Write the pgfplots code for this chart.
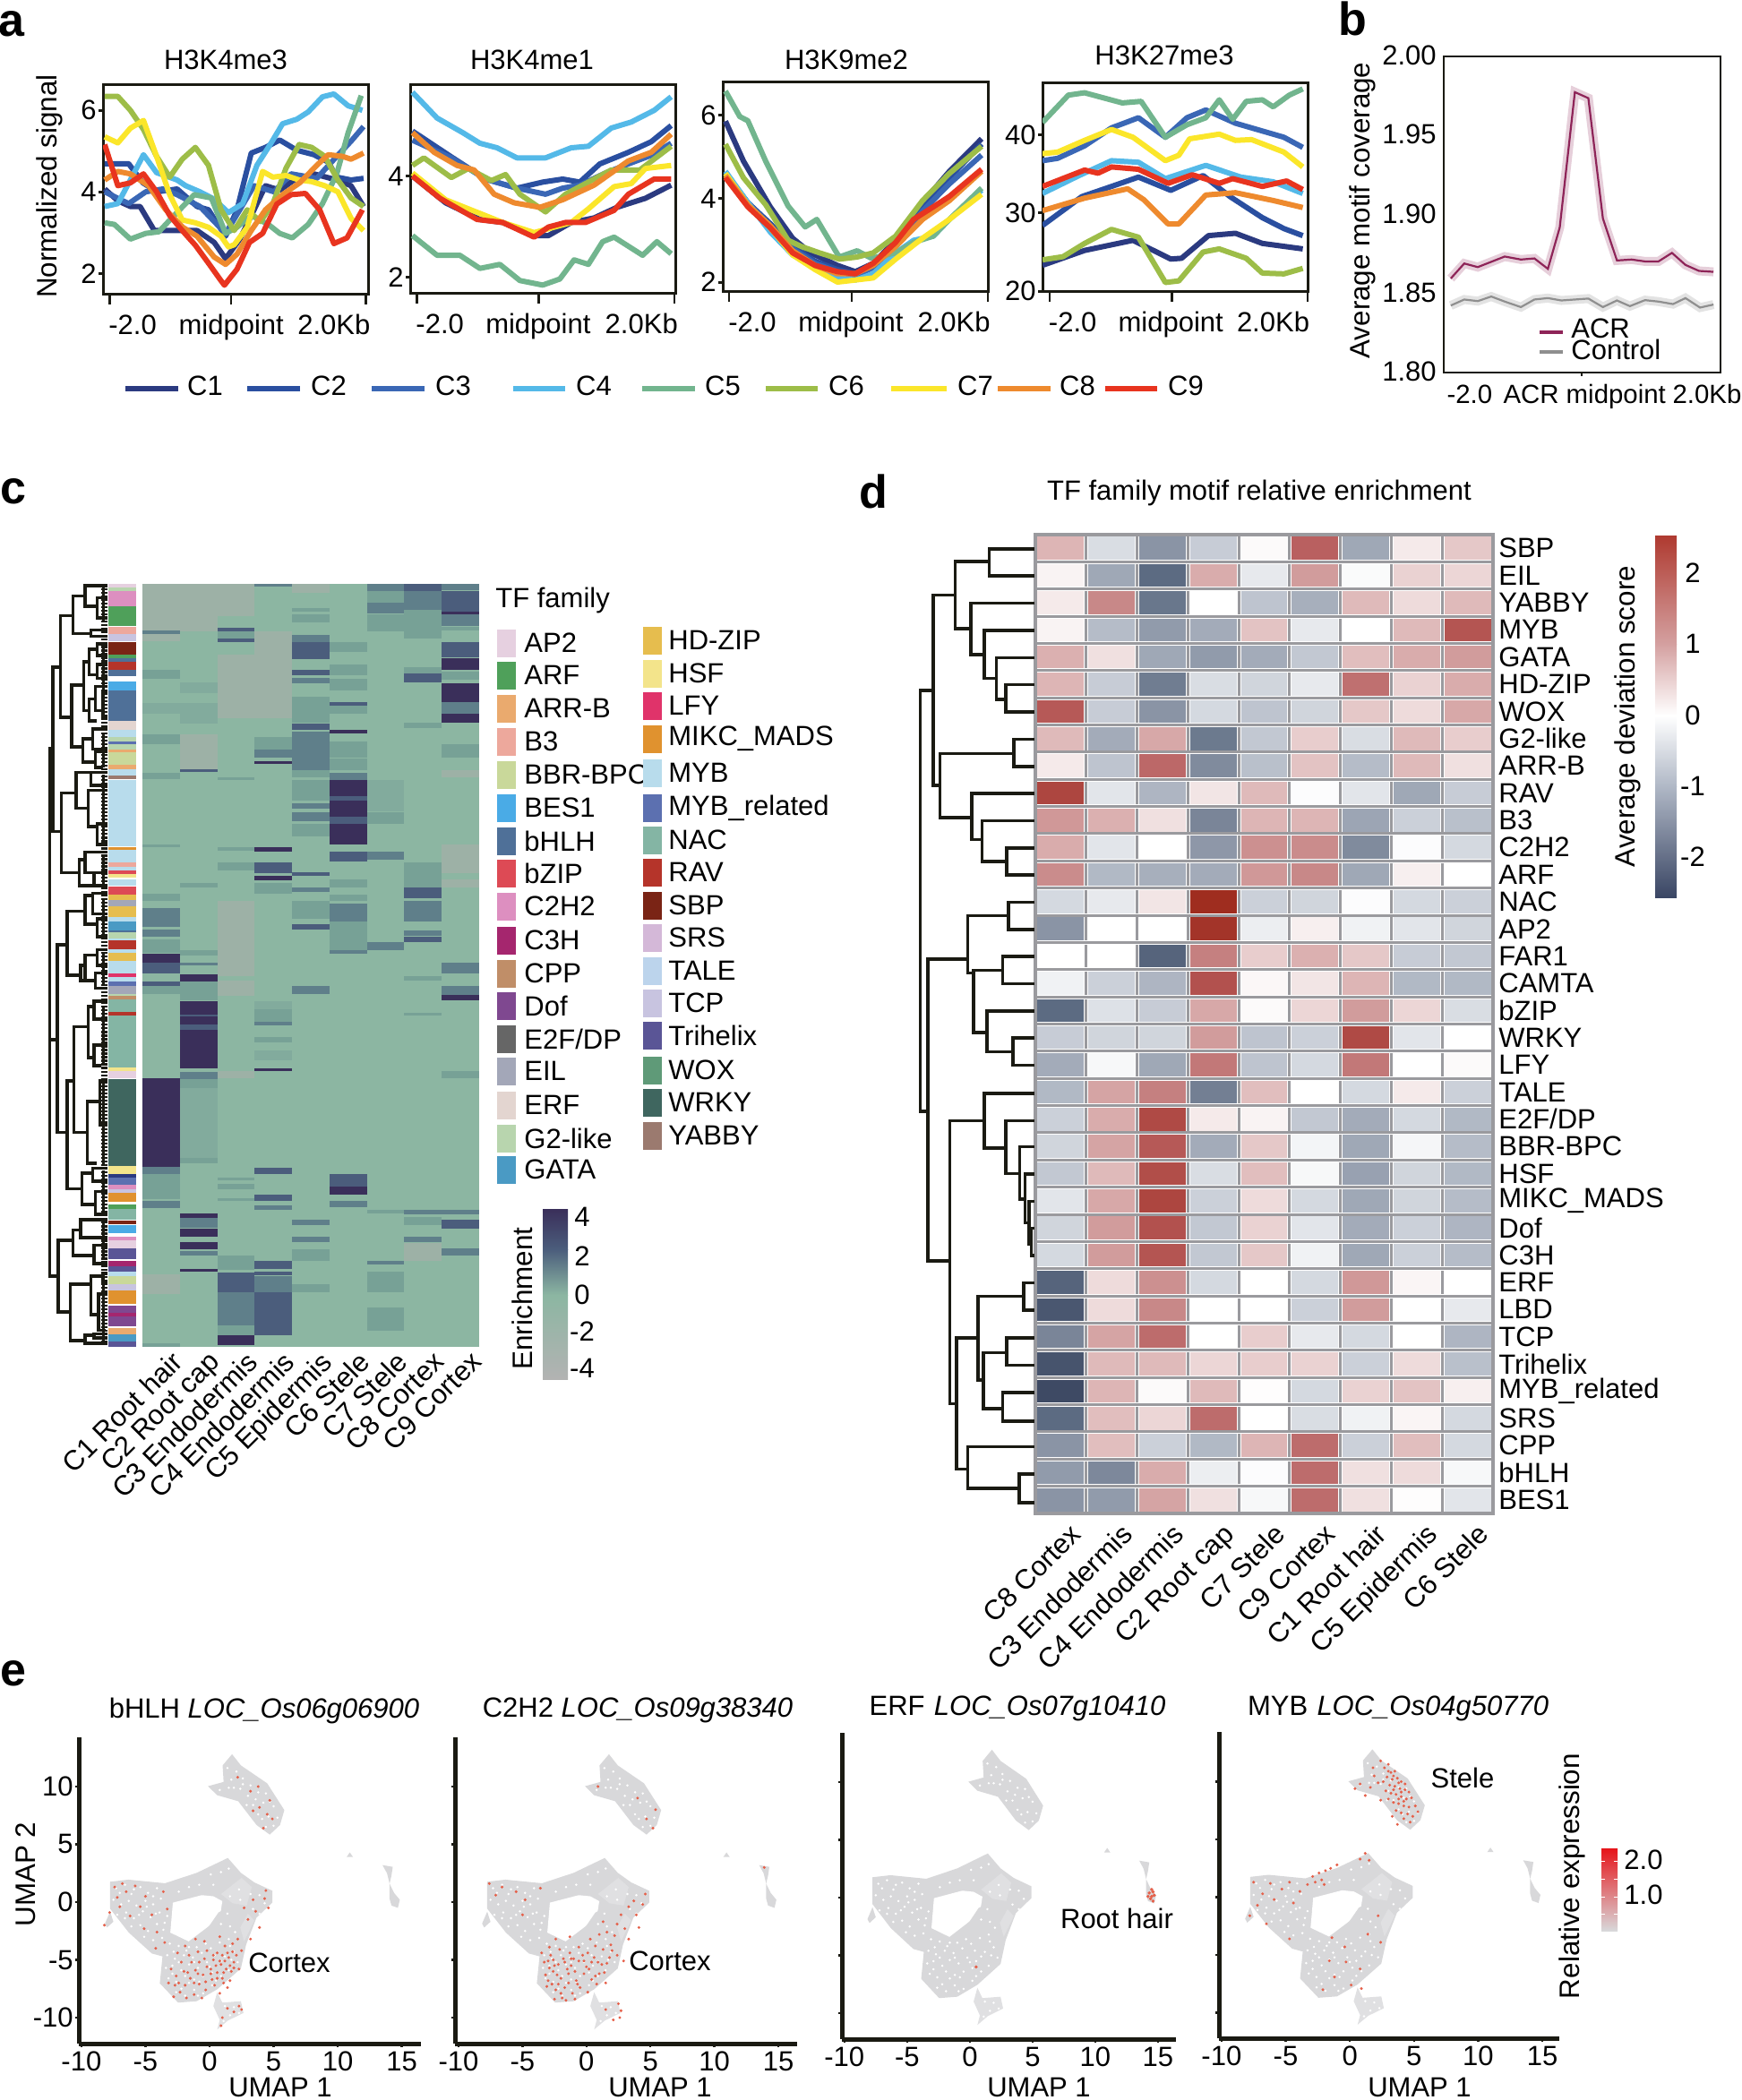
\documentclass[border=0pt]{standalone}
\usepackage{fontspec}
\setmainfont{Liberation Sans}
\usepackage{pgfplots}
\pgfplotsset{compat=1.18}
\definecolor{ink}{HTML}{1A1A12}
\definecolor{cA}{HTML}{2B3A80}\definecolor{cB}{HTML}{2A4FA0}\definecolor{cC}{HTML}{3A67B5}
\definecolor{cD}{HTML}{54B9E8}\definecolor{cE}{HTML}{72B58E}\definecolor{cF}{HTML}{9DBD48}
\definecolor{cG}{HTML}{FBE62A}\definecolor{cH}{HTML}{EE8A2E}\definecolor{cI}{HTML}{E8341F}
\definecolor{hb}{HTML}{8CB6A2}\definecolor{hg}{HTML}{9DB1A6}\definecolor{hl}{HTML}{82AB9D}
\definecolor{hA}{HTML}{77A196}\definecolor{hB}{HTML}{5F7F8A}\definecolor{hC}{HTML}{4B5D7C}\definecolor{hD}{HTML}{3A2F5A}
\definecolor{tAP}{HTML}{E6D0E0}\definecolor{tARF}{HTML}{4FA05A}\definecolor{tARR}{HTML}{EAAA6E}\definecolor{tBt}{HTML}{EDA89C}
\definecolor{tBBR}{HTML}{C9D89A}\definecolor{tBES}{HTML}{4AABE6}\definecolor{tbHLH}{HTML}{4F7098}\definecolor{tbZIP}{HTML}{DD4A55}
\definecolor{tCt}{HTML}{DD8FC0}\definecolor{tCH}{HTML}{A5266E}\definecolor{tCPP}{HTML}{C08E68}\definecolor{tDof}{HTML}{7F4890}
\definecolor{tE}{HTML}{666666}\definecolor{tEIL}{HTML}{A3A7B8}\definecolor{tERF}{HTML}{E3D5D0}\definecolor{tG}{HTML}{B8D5AE}
\definecolor{tGATA}{HTML}{4A9AC4}\definecolor{tHD}{HTML}{E6BD4E}\definecolor{tHSF}{HTML}{F3E48B}\definecolor{tLFY}{HTML}{E0336A}
\definecolor{tMIKC}{HTML}{E0922F}\definecolor{tMYB}{HTML}{B8DCEC}\definecolor{tMYBr}{HTML}{5C70B0}\definecolor{tNAC}{HTML}{84B5A4}
\definecolor{tRAV}{HTML}{B5342A}\definecolor{tSBP}{HTML}{7A2415}\definecolor{tSRS}{HTML}{D4B8D8}\definecolor{tTALE}{HTML}{BCD4EC}
\definecolor{tTCP}{HTML}{C8C4E0}\definecolor{tTri}{HTML}{5A5596}\definecolor{tWOX}{HTML}{5F9A78}\definecolor{tWRKY}{HTML}{3F665F}
\definecolor{tYAB}{HTML}{9B7A6F}\definecolor{ugray}{HTML}{D8D8DA}\definecolor{ulite}{HTML}{E0E0E2}\definecolor{ured}{HTML}{E5604A}
\definecolor{acr}{HTML}{8E2458}\definecolor{ctl}{HTML}{8F8F8F}\definecolor{grd}{HTML}{9A9A9E}
\definecolor{dvA}{HTML}{AF3A30}\definecolor{dvB}{HTML}{D4A0A0}\definecolor{dvC}{HTML}{B0B8C6}\definecolor{dvD}{HTML}{3A4664}
\definecolor{ceA}{HTML}{E6141A}
\pgfplotsset{
  base/.style={scale only axis,anchor=north west,/pgf/number format/assume math mode=true,tick label style={inner sep=1pt}},
  panA/.style={base,clip=true,axis line style={line width=1.5pt,ink},xtick pos=lower,ytick pos=left,
    xticklabels={-2.0,midpoint,2.0Kb},xtick style={draw=none},major tick length=2.5pt,tick align=outside,
    ytick style={line width=1.5pt,ink},
    extra x tick labels={,,},extra x tick style={major tick length=6pt,xtick style={draw=ink,line width=1.2pt}},
    xticklabel style={anchor=base,yshift=-20pt}},
  lna/.style={line width=3pt,mark=none,line join=round},
  hmap/.style={base,axis line style={draw=none},ytick=\empty,xtick={0.5,1.5,2.5,3.5,4.5,5.5,6.5,7.5,8.5},major tick length=0pt,
    xmin=0,xmax=9,ymin=38,ymax=1522,y dir=reverse,xticklabel pos=lower,xticklabel style={rotate=45,anchor=north east,inner sep=0pt}},
  umap/.style={base,axis x line=bottom,axis y line=left,axis line style={-,line width=2.5pt,ink},
    tick style={line width=1.2pt,ink},major tick length=2pt,tick align=outside,
    xtick={-10,-5,0,5,10,15},xticklabels={-10,-5,0,5,10,15},ytick={-10,-5,0,5,10},
    xticklabel style={anchor=base,yshift=-13pt},clip=false},
  ug/.style={fill=ugray,draw=none},
  ur/.style={only marks,mark=*,mark size=0.55pt,color=ured,mark options={draw=none,fill=ured}},
}
\newcommand\T[4][center]{\node[anchor=#1,inner sep=0pt] at (#2*0.5pt,-#3*0.5pt) {#4};}
\newcommand\Tr[3]{\node[rotate=90,inner sep=0pt,font=\fontsize{15.7}{18}\selectfont] at (#1*0.5pt,-#2*0.5pt) {#3};}
\newcommand\R[5]{\fill[#5] (#1*0.5pt,-#2*0.5pt) rectangle (#3*0.5pt,-#4*0.5pt);}
\newcommand\Sh[6]{\shade[top color=#5,bottom color=#6] (#1*0.5pt,-#2*0.5pt) rectangle (#3*0.5pt,-#4*0.5pt);}
\newcommand\Br[5]{\draw[dend] (#3,#2)--(#1,#2)--(#1,#4)--(#5,#4);}
\tikzset{dend/.style={ink,line width=1.8pt,line cap=butt,line join=miter}}
\newcommand\col[1]{\def\cc{#1}\pgfmathtruncatemacro\cd{#1+1}}
\newcommand\B[3]{\addplot[draw=none,fill=#3,forget plot] coordinates {(\cc,#1)(\cd,#1)(\cd,#2)(\cc,#2)};}
\def\ee{E2F/DP}
\newcommand\UMAPbase{%
 \addplot[ug] coordinates {(1.43,3.82)(2.45,2.53)(3.5,1.7)(4.9,0.98)(4.9,-.05)(3.67,-1.34)(2.86,-3.67)(2.45,-5.74)(.6,-7.55)(-1.0,-8.58)(-2.45,-8.7)(-3.88,-7.03)(-3.67,-4.7)(-4.5,-4.45)(-6.3,-2.64)(-7.76,-.57)(-7.76,1.76)(-6.33,1.94)(-3.47,1.63)(-1.0,2.53)};
 \addplot[fill=white,draw=none] coordinates {(-2.86,-.05)(-.6,.6)(.3,.5)(1.0,.08)(.8,-1.34)(-.2,-2.2)(-1.63,-3.4)(-3.06,-2.64)};
 \addplot[ug] coordinates {(.7,-.9)(1.8,-.3)(1.9,-1.7)(.9,-2.6)(-.2,-3.5)(-.6,-3)};
 \addplot[fill=ulite,draw=none] coordinates {(.9,.7)(2.5,2.1)(3.3,1.3)(2.9,-.3)(1.8,-.1)};
 \addplot[fill=ulite,draw=none] coordinates {(2.7,-3.4)(3.5,-1.6)(3.0,-1)(2.4,-2.2)};
 \addplot[ug] coordinates {(-8.16,-1.86)(-7.76,-.83)(-7.5,-1.7)(-8,-2.2)};
 \addplot[fill=ulite,draw=none] coordinates {(.6,-7.8)(1.0,-8.7)(2.45,-8.58)(2.65,-9.6)(1.43,-10.26)(.6,-11.03)(.8,-10.2)(.3,-9)};
 \addplot[ug] coordinates {(1.76,12.8)(2.45,11.83)(4.5,10.28)(5.84,7.96)(5.5,6.67)(4.7,5.84)(3.67,6.67)(2.24,8.73)(.6,9.25)(-.12,10.03)(1.1,10.4)(1.02,11.83)};
 \addplot[fill=ugray,draw=none] coordinates {(10.7,3.9)(10.95,4.3)(11.2,3.9)};
 \addplot[fill=ugray,draw=none] coordinates {(13.5,3.2)(14.3,3.05)(14.2,2.3)(14.05,1.6)(13.85,2.5)};
 \addplot[fill=ugray,draw=none] coordinates {(14.05,1.6)(14.4,.8)(14.85,.2)(14.7,-.5)(14.2,-.3)(14.05,.3)};
 \addplot[only marks,mark=*,mark size=.4pt,color=white,mark options={draw=none,fill=white}] coordinates {
 (-7.3,1.2)(-6.6,1.5)(-6.1,.7)(-5.4,1.3)(-4.8,.8)(-4.1,1.2)(-7.5,.2)(-6.9,-.2)(-6.3,.1)(-5.7,-.3)(-5,.1)(-4.4,-.2)(-3.8,.3)(-7.2,-1.1)(-6.5,-.9)(-5.9,-1.4)(-5.2,-.8)(-4.6,-1.3)(-3.9,-.9)(-3.3,-1.2)(-6.1,-2.1)(-5.4,-2)(-4.8,-2.5)(-4.1,-1.9)(-3.6,-2.4)(-4.4,-3.3)(-3.7,-3.1)
 (-3.1,-3.6)(-2.4,-3.8)(-1.8,-4.2)(-1,-3.9)(-3.3,-4.6)(-2.7,-4.9)(-2,-4.6)(-1.3,-4.8)(-.6,-4.4)(.1,-4)(.8,-3.5)(1.5,-3.2)(2,-2.6)(-3.4,-5.7)(-2.9,-5.5)(-2.2,-5.9)(-1.6,-5.4)(-.9,-5.7)(-.2,-5.2)(.5,-5.5)(1.2,-4.7)(1.9,-4.3)(2.2,-5.2)(-3.2,-6.6)(-2.6,-6.9)(-1.9,-6.4)(-1.2,-6.7)(-.5,-6.4)(.2,-6.1)(.9,-6.4)(1.5,-5.9)(-2.6,-7.8)(-1.9,-8.1)(-1.2,-7.6)(-.5,-7.9)(.2,-7.2)
 (1.4,-1)(.9,-1.9)(1.6,-2.1)(3.2,.7)(2.3,1.1)(1.6,.5)(2.4,.2)(3.9,.6)(4.3,-.1)(3.4,-.6)(3.9,-1)(-.8,1.5)(-1.6,1.3)(-2.4,.9)(.3,1.5)(.9,2.6)(1.5,2.9)(.1,2.4)
 (1.4,11.6)(2.1,11.3)(1.7,10.6)(2.6,10.7)(3.2,10.1)(2.4,9.8)(1.5,9.9)(.8,9.7)(3,9.2)(3.8,9.5)(4.4,9.4)(3.4,8.4)(4.2,8.6)(5,8.3)(2.9,8.4)(3.8,7.6)(4.6,7.4)(5.3,7.3)(4.4,6.5)(5,6.6)
 (1.2,-9)(1.9,-9.1)(1.6,-9.8)(2.3,-9.6)(1.1,-10.3)
 (-7,.8)(-5.9,1.1)(-4.4,.5)(-6.6,-1.4)(-5.5,-1.1)(-4.9,-.4)(-4.2,-1)(-3.5,-1.8)(-5.1,-3)(-2.8,-4.3)(-1.6,-3.9)(-.3,-3.6)(.4,-4.6)(1.6,-3.8)(-2.4,-5.2)(-1.2,-5.2)(0,-5.6)(.9,-5.1)(1.7,-5)(-2.9,-6.2)(-1.6,-7)(-.8,-6.9)(.5,-6.8)(-2.2,-7.5)(-.9,-8.1)(2.6,10.2)(3.6,8.9)(4.7,8.7)(4.1,7.2)(1.9,9.9)
 };
}
\begin{document}
\fontsize{15.5}{18}\selectfont
\begin{tikzpicture}
\useasboundingbox (0,0) rectangle (972pt,-1172.5pt);
% ---------- a1
\begin{axis}[panA,at={(57.5pt,-47pt)},width=148pt,height=117pt,xmin=180,xmax=645,ymin=1.5,ymax=6.64,
  xtick={232,405,585},extra x ticks={192,405,641},ytick={2,4,6}]
\addplot[lna,cA] coordinates {(183,4.07)(206,3.78)(228,3.64)(245,3.64)(270,3.05)(300,3.05)(345,3.05)(375,2.76)(395,2.36)(420,2.84)(445,3.56)(465,4.15)(490,4.04)(515,4.29)(550,4.44)(590,4.29)(615,4.15)(637,3.64)};
\addplot[lna,cB] coordinates {(183,4.69)(225,4.69)(250,4.22)(275,4.0)(310,4.07)(345,3.64)(365,3.56)(395,2.91)(415,3.56)(440,4.95)(465,5.09)(490,5.27)(520,5.02)(550,4.91)(575,4.73)(590,4.36)(615,4.29)(637,4.33)};
\addplot[lna,cC] coordinates {(183,4.0)(225,3.71)(255,4.0)(285,4.07)(310,3.93)(350,3.64)(395,2.98)(420,3.56)(445,4.15)(480,4.0)(510,4.44)(555,4.33)(590,4.87)(615,5.24)(637,5.6)};
\addplot[lna,cD] coordinates {(183,3.64)(206,3.71)(228,4.29)(251,4.91)(274,4.47)(310,4.29)(325,4.15)(350,4.0)(375,3.82)(400,3.49)(425,3.71)(450,4.65)(475,5.2)(495,5.67)(520,5.78)(540,5.96)(565,6.33)(585,6.4)(610,6.11)(635,6.0)};
\addplot[lna,cE] coordinates {(183,3.24)(200,3.2)(228,2.84)(255,2.98)(278,3.02)(300,3.35)(340,3.93)(370,3.85)(395,2.98)(415,3.13)(440,3.42)(470,3.2)(490,2.98)(512,2.87)(540,3.2)(565,3.71)(590,4.44)(610,5.45)(633,6.36)};
\addplot[lna,cF] coordinates {(183,6.34)(206,6.34)(228,6.0)(251,5.53)(274,4.87)(297,4.36)(319,4.8)(342,5.09)(365,4.65)(387,3.56)(410,3.05)(433,3.56)(456,3.27)(478,3.71)(501,4.58)(524,5.16)(546,5.09)(569,4.87)(592,4.29)(615,3.85)(637,3.64)};
\addplot[lna,cG] coordinates {(183,5.35)(206,5.2)(228,5.56)(251,5.75)(274,4.87)(297,3.93)(319,3.31)(342,3.24)(365,3.13)(387,2.91)(400,2.65)(410,2.7)(433,3.13)(460,4.5)(478,4.36)(501,4.4)(524,4.29)(546,4.25)(569,4.15)(592,4.0)(615,3.35)(637,3.05)};
\addplot[lna,cH] coordinates {(183,4.29)(206,4.5)(228,4.44)(260,4.15)(290,3.56)(320,3.13)(345,2.91)(375,2.4)(395,2.22)(415,2.47)(440,3.05)(465,3.56)(495,3.93)(525,4.22)(555,4.65)(575,4.91)(600,4.87)(615,4.8)(637,4.95)};
\addplot[lna,cI] coordinates {(183,5.16)(206,4.15)(228,4.22)(251,4.44)(274,4.0)(297,3.42)(319,3.05)(342,2.69)(365,2.25)(387,1.82)(393,1.71)(415,2.1)(437,2.76)(460,2.98)(485,3.7)(510,3.93)(535,3.96)(560,3.56)(585,2.73)(608,2.87)(635,3.56)};
\end{axis}
% ---------- a2
\begin{axis}[panA,at={(229pt,-47pt)},width=148.25pt,height=116.5pt,xmin=718,xmax=1183,ymin=1.686,ymax=5.82,
  xtick={770,942,1123},extra x ticks={730,943,1181},ytick={2,4}]
\addplot[lna,cA] coordinates {(722,4.0)(780,3.47)(840,3.14)(880,3.08)(935,2.82)(960,2.82)(1000,3.08)(1040,3.17)(1080,3.38)(1130,3.56)(1175,3.82)};
\addplot[lna,cB] coordinates {(722,4.89)(790,4.38)(850,3.94)(905,3.76)(950,3.88)(985,3.94)(1015,3.88)(1050,4.24)(1100,4.47)(1140,4.68)(1175,5.0)};
\addplot[lna,cC] coordinates {(722,4.71)(790,4.36)(850,3.94)(905,3.76)(955,3.64)(985,3.76)(1015,3.82)(1060,4.06)(1100,4.24)(1140,4.41)(1175,4.65)};
\addplot[lna,cD] coordinates {(722,5.66)(765,5.15)(810,4.86)(840,4.65)(870,4.56)(905,4.36)(955,4.36)(1000,4.56)(1030,4.59)(1070,4.95)(1105,5.07)(1145,5.3)(1175,5.57)};
\addplot[lna,cE] coordinates {(722,2.82)(765,2.43)(805,2.43)(840,2.17)(875,2.25)(910,1.93)(950,1.84)(980,1.96)(1005,2.34)(1030,2.25)(1055,2.7)(1075,2.79)(1125,2.43)(1150,2.7)(1175,2.46)};
\addplot[lna,cF] coordinates {(722,4.21)(742,4.36)(790,3.97)(820,4.15)(860,3.91)(885,4.03)(910,3.64)(955,3.29)(990,3.64)(1020,3.82)(1070,4.12)(1120,4.12)(1175,4.59)};
\addplot[lna,cG] coordinates {(722,4.06)(780,3.53)(840,3.26)(880,3.08)(935,2.88)(1000,3.08)(1030,3.35)(1075,3.79)(1105,3.85)(1130,4.15)(1175,4.21)};
\addplot[lna,cH] coordinates {(722,4.86)(760,4.47)(800,4.21)(830,4.12)(865,3.64)(900,3.47)(945,3.38)(985,3.53)(1040,3.82)(1100,4.3)(1140,4.47)(1175,4.83)};
\addplot[lna,cI] coordinates {(722,4.0)(770,3.56)(835,3.14)(880,3.08)(935,2.79)(960,2.99)(990,3.08)(1025,3.08)(1075,3.32)(1100,3.64)(1145,3.94)(1175,3.94)};
\end{axis}
% ---------- a3
\begin{axis}[panA,at={(403.5pt,-45.5pt)},width=148.25pt,height=117pt,xmin=807,xmax=1103.5,ymin=1.786,ymax=6.8,
  xtick={840,950,1065},extra x ticks={814,951,1103},ytick={2,4,6}]
\addplot[lna,cA] coordinates {(810,5.85)(830,4.9)(860,3.8)(885,3.05)(905,2.7)(935,2.4)(955,2.25)(975,2.45)(1000,3.0)(1030,3.9)(1060,4.65)(1096,5.43)};
\addplot[lna,cB] coordinates {(810,4.6)(835,3.9)(860,3.4)(885,2.85)(910,2.5)(935,2.3)(955,2.2)(975,2.4)(1000,2.9)(1030,3.8)(1060,4.5)(1096,5.3)};
\addplot[lna,cC] coordinates {(810,4.6)(835,3.9)(860,3.35)(885,2.8)(910,2.45)(935,2.25)(955,2.15)(975,2.35)(1000,2.85)(1030,3.7)(1060,4.35)(1096,5.04)};
\addplot[lna,cD] coordinates {(810,4.65)(835,3.9)(860,3.2)(885,2.65)(910,2.35)(935,2.1)(955,2.05)(975,2.2)(1000,2.7)(1020,3.0)(1042,3.1)(1060,3.5)(1096,4.2)};
\addplot[lna,cE] coordinates {(810,6.57)(826,5.96)(835,5.86)(855,4.89)(880,3.82)(899,3.32)(912,3.5)(937,2.6)(957,2.75)(973,2.57)(1000,2.7)(1020,2.95)(1042,3.1)(1060,3.5)(1096,4.25)};
\addplot[lna,cF] coordinates {(810,5.3)(830,4.5)(855,3.85)(880,3.0)(895,2.85)(915,2.7)(937,2.55)(957,2.6)(975,2.7)(1000,3.1)(1030,3.95)(1060,4.6)(1096,5.25)};
\addplot[lna,cG] coordinates {(810,4.6)(835,3.85)(860,3.3)(885,2.65)(910,2.3)(935,2.0)(955,2.05)(975,2.1)(1000,2.55)(1030,3.05)(1060,3.5)(1096,4.1)};
\addplot[lna,cH] coordinates {(810,4.55)(835,3.85)(860,3.35)(885,2.75)(910,2.4)(935,2.2)(955,2.2)(975,2.4)(1000,2.85)(1030,3.5)(1060,3.95)(1096,4.65)};
\addplot[lna,cI] coordinates {(810,4.5)(835,3.8)(860,3.3)(885,2.7)(910,2.4)(935,2.25)(955,2.2)(975,2.45)(1000,2.95)(1020,3.5)(1042,3.8)(1060,4.05)(1096,4.7)};
\end{axis}
% ---------- a4
\begin{axis}[panA,at={(582pt,-46pt)},width=148.3pt,height=116.5pt,xmin=272,xmax=765,ymin=20,ymax=46.73,
  xtick={328,510,700},extra x ticks={285,512,764},ytick={20,30,40}]
\addplot[lna,cA] coordinates {(272,23.3)(350,25.2)(440,26.5)(510,24.1)(530,24.2)(580,27.1)(630,27.4)(680,26.1)(755,25.4)};
\addplot[lna,cB] coordinates {(272,28.4)(345,32.1)(400,33.4)(450,34.6)(510,32.9)(570,34.8)(620,32.1)(680,29.4)(720,28)(755,27.1)};
\addplot[lna,cC] coordinates {(272,36.7)(300,37)(350,38.6)(400,40.9)(450,42.2)(500,39.7)(540,42.2)(575,43.2)(630,41.5)(680,40.5)(720,39.7)(755,38.4)};
\addplot[lna,cD] coordinates {(272,32.5)(340,34.8)(400,36.7)(450,36.5)(500,34.4)(575,36.1)(640,34.6)(700,34)(755,32.5)};
\addplot[lna,cE] coordinates {(272,41.6)(320,45.1)(350,45.4)(420,44.1)(455,44.3)(500,39.7)(540,41.3)(575,42.2)(600,44.5)(625,42)(650,44.3)(680,44.5)(700,43.6)(730,45.1)(755,45.9)};
\addplot[lna,cF] coordinates {(272,24)(310,24.4)(350,26.1)(400,27.9)(450,26.9)(500,21.1)(525,21.3)(570,25)(600,25.4)(650,24.2)(680,22.3)(720,22.2)(755,22.9)};
\addplot[lna,cG] coordinates {(272,37.6)(300,37.8)(350,39.3)(400,40.7)(440,39.7)(500,36.7)(525,37.4)(545,39.5)(600,40.1)(630,39.3)(660,39.4)(720,37.8)(755,35.9)};
\addplot[lna,cH] coordinates {(272,30.3)(350,31.9)(430,33.1)(460,31.7)(505,28.6)(525,28.6)(575,32.3)(630,32.6)(700,31.6)(755,30.7)};
\addplot[lna,cI] coordinates {(272,33.4)(350,35.5)(375,35.1)(400,35.9)(450,35.6)(505,33.8)(550,34.9)(600,33.8)(625,34.4)(680,33.4)(725,34.1)(755,33)};
\end{axis}
% ---------- b
\begin{axis}[base,at={(806pt,-31.5pt)},width=154.5pt,height=176.5pt,xmin=1017,xmax=1530,ymin=1.8,ymax=2.0,
  axis line style={line width=1pt,ink},xtick pos=lower,ytick pos=left,ytick={1.8,1.85,1.9,1.95,2.0},
  yticklabel style={/pgf/number format/fixed,/pgf/number format/fixed zerofill,/pgf/number format/precision=2,xshift=-3pt,yshift=0.5pt},
  major tick length=0pt,xtick={1065,1278,1505},xticklabels={-2.0,ACR midpoint,2.0Kb},
  xticklabel style={anchor=base,yshift=-17pt,font=\fontsize{14.7}{17}\selectfont},
  extra x ticks={1272},extra x tick labels={},extra x tick style={major tick length=2pt,tick style={line width=1pt,ink},tick align=outside}]
\addplot[line width=5pt,acr,opacity=.22,mark=none] coordinates {(1030,1.8595)(1055,1.869)(1080,1.8667)(1130,1.8734)(1160,1.8715)(1185,1.8722)(1210,1.8656)(1232,1.8918)(1260,1.9774)(1285,1.9736)(1312,1.8975)(1338,1.8709)(1365,1.8715)(1390,1.8703)(1415,1.8703)(1440,1.8757)(1465,1.8681)(1490,1.8643)(1517,1.8637)};
\addplot[line width=5pt,ctl,opacity=.25,mark=none] coordinates {(1030,1.8424)(1055,1.8462)(1080,1.8452)(1105,1.8481)(1130,1.8449)(1160,1.8414)(1185,1.8462)(1210,1.8471)(1235,1.8456)(1285,1.8468)(1312,1.8414)(1338,1.8456)(1362,1.842)(1390,1.8458)(1415,1.8449)(1442,1.8433)(1465,1.8471)(1492,1.8411)(1517,1.843)};
\addplot[line width=1.1pt,acr,mark=none] coordinates {(1030,1.8595)(1055,1.869)(1080,1.8667)(1130,1.8734)(1160,1.8715)(1185,1.8722)(1210,1.8656)(1232,1.8918)(1260,1.9774)(1285,1.9736)(1312,1.8975)(1338,1.8709)(1365,1.8715)(1390,1.8703)(1415,1.8703)(1440,1.8757)(1465,1.8681)(1490,1.8643)(1517,1.8637)};
\addplot[line width=1.1pt,ctl,mark=none] coordinates {(1030,1.8424)(1055,1.8462)(1080,1.8452)(1105,1.8481)(1130,1.8449)(1160,1.8414)(1185,1.8462)(1210,1.8471)(1235,1.8456)(1285,1.8468)(1312,1.8414)(1338,1.8456)(1362,1.842)(1390,1.8458)(1415,1.8449)(1442,1.8433)(1465,1.8471)(1492,1.8411)(1517,1.843)};
\end{axis}
% ---------- c heat
\begin{axis}[hmap,at={(79.5pt,-326pt)},width=188pt,height=426pt,
  xticklabels={C1 Root hair,C2 Root cap,C3 Endodermis,C4 Endodermis,C5 Epidermis,C6 Stele,C7 Stele,C8 Cortex,C9 Cortex},
  xticklabel style={xshift=2.5pt,yshift=-4.5pt}]
\col{0}\addplot[draw=none,fill=hb,forget plot] coordinates {(0,38)(9,38)(9,1522)(0,1522)};
\col{0}
\B{38}{128}{hg}\B{128}{135}{hB}\B{135}{150}{hg}\B{205}{222}{hA}\B{270}{290}{hl}\B{330}{350}{hA}\B{405}{418}{hA}\B{545}{550}{hA}\B{640}{655}{hA}\B{668}{705}{hB}\B{710}{725}{hB}\B{730}{755}{hA}\B{758}{775}{hD}\B{775}{795}{hC}\B{812}{820}{hC}\B{820}{835}{hA}\B{1000}{1172}{hD}\B{1172}{1185}{hB}\B{1185}{1215}{hA}\B{1215}{1235}{hA}\B{1238}{1252}{hB}\B{1380}{1420}{hg}\B{1515}{1522}{hA}
\col{1}
\B{38}{130}{hg}\B{230}{250}{hl}\B{270}{310}{hl}\B{330}{345}{hg}\B{345}{400}{hg}\B{398}{404}{hC}\B{620}{628}{hA}\B{750}{760}{hA}\B{775}{780}{hB}\B{798}{812}{hD}\B{812}{848}{hA}\B{850}{980}{hD}\B{875}{880}{hC}\B{895}{905}{hC}\B{987}{1002}{hB}\B{1002}{1018}{hA}\B{1018}{1160}{hl}\B{1155}{1165}{hA}\B{1262}{1272}{hD}\B{1272}{1290}{hB}\B{1292}{1308}{hD}\B{1318}{1332}{hD}\B{1335}{1345}{hB}\B{1370}{1376}{hD}
\col{2}
\B{38}{100}{hg}\B{123}{130}{hC}\B{130}{145}{hA}\B{145}{152}{hC}\B{175}{300}{hg}\B{415}{420}{hA}\B{550}{557}{hA}\B{580}{595}{hA}\B{655}{800}{hg}\B{810}{840}{hg}\B{985}{1000}{hg}\B{1192}{1198}{hA}\B{1205}{1215}{hA}\B{1232}{1238}{hA}\B{1345}{1372}{hA}\B{1378}{1415}{hC}\B{1415}{1480}{hB}\B{1480}{1500}{hA}\B{1500}{1518}{hD}
\col{3}
\B{38}{44}{hB}\B{130}{300}{hg}\B{335}{360}{hA}\B{360}{375}{hB}\B{382}{388}{hD}\B{550}{558}{hD}\B{580}{600}{hC}\B{605}{615}{hD}\B{620}{640}{hA}\B{850}{880}{hl}\B{865}{890}{hA}\B{890}{896}{hB}\B{920}{930}{hA}\B{945}{965}{hl}\B{980}{985}{hD}\B{1173}{1185}{hC}\B{1225}{1238}{hC}\B{1247}{1255}{hB}\B{1355}{1370}{hC}\B{1375}{1382}{hC}\B{1384}{1415}{hB}\B{1415}{1500}{hC}
\col{4}
\B{38}{55}{hg}\B{85}{92}{hA}\B{98}{113}{hA}\B{137}{152}{hB}\B{152}{185}{hC}\B{205}{215}{hC}\B{220}{232}{hB}\B{258}{285}{hA}\B{285}{308}{hA}\B{310}{322}{hC}\B{325}{400}{hB}\B{400}{415}{hA}\B{420}{460}{hA}\B{465}{475}{hB}\B{482}{500}{hB}\B{505}{530}{hA}\B{598}{605}{hC}\B{628}{637}{hB}\B{655}{690}{hA}\B{700}{710}{hC}\B{820}{835}{hB}\B{1275}{1285}{hB}\B{1308}{1318}{hB}\B{1332}{1355}{hA}\B{1400}{1415}{hA}
\col{5}
\B{152}{170}{hA}\B{195}{215}{hA}\B{222}{245}{hA}\B{268}{275}{hC}\B{275}{290}{hA}\B{322}{328}{hD}\B{345}{375}{hA}\B{378}{400}{hA}\B{405}{420}{hB}\B{420}{545}{hD}\B{450}{460}{hC}\B{490}{505}{hC}\B{558}{578}{hC}\B{612}{628}{hA}\B{642}{655}{hA}\B{660}{695}{hB}\B{695}{720}{hA}\B{720}{750}{hA}\B{750}{758}{hB}\B{1185}{1210}{hC}\B{1210}{1225}{hD}\B{1238}{1250}{hB}
\col{6}
\B{38}{52}{hB}\B{52}{75}{hA}\B{75}{95}{hB}\B{98}{130}{hA}\B{420}{480}{hl}\B{482}{505}{hA}\B{558}{575}{hB}\B{735}{750}{hB}\B{1255}{1262}{hA}\B{1355}{1362}{hB}\B{1375}{1415}{hA}\B{1445}{1490}{hA}
\col{7}
\B{38}{52}{hC}\B{52}{88}{hB}\B{88}{130}{hA}\B{130}{145}{hA}\B{200}{213}{hA}\B{213}{230}{hC}\B{308}{318}{hA}\B{580}{600}{hA}\B{600}{628}{hA}\B{628}{650}{hC}\B{655}{695}{hB}\B{712}{722}{hB}\B{725}{735}{hC}\B{800}{810}{hA}\B{872}{878}{hA}\B{1255}{1265}{hB}\B{1270}{1285}{hA}\B{1308}{1318}{hB}\B{1320}{1355}{hg}
\col{8}
\B{38}{50}{hB}\B{52}{92}{hC}\B{92}{98}{hD}\B{98}{120}{hB}\B{122}{128}{hA}\B{152}{180}{hC}\B{182}{205}{hD}\B{208}{225}{hA}\B{232}{268}{hD}\B{268}{290}{hB}\B{290}{308}{hD}\B{350}{375}{hA}\B{400}{415}{hg}\B{545}{600}{hg}\B{612}{628}{hg}\B{775}{795}{hB}\B{820}{838}{hB}\B{838}{848}{hD}\B{985}{1000}{hA}\B{1255}{1265}{hB}\B{1275}{1292}{hC}\B{1330}{1345}{hB}
\end{axis}
% colour strip
\begin{axis}[base,hide axis,at={(60.5pt,-326pt)},width=15.5pt,height=426pt,xmin=0,xmax=1,ymin=38,ymax=1522,y dir=reverse]
\col{0}
\B{38}{45}{tAP}\B{45}{52}{tG}\B{52}{82}{tCt}\B{82}{120}{tARF}\B{122}{135}{tBt}\B{135}{150}{tTCP}\B{152}{175}{tSBP}\B{175}{183}{tARF}\B{183}{190}{tbHLH}\B{190}{205}{tRAV}\B{205}{218}{tbHLH}\B{228}{245}{tBES}\B{245}{305}{tbHLH}\B{305}{322}{tERF}\B{322}{335}{tMYB}\B{335}{345}{tG}\B{345}{350}{tMYBr}\B{350}{360}{tG}\B{360}{365}{tARR}\B{365}{390}{tBBR}\B{390}{398}{tARR}\B{398}{410}{tMYB}\B{410}{418}{tYAB}\B{420}{548}{tMYB}\B{550}{556}{tMIKC}\B{556}{580}{tMYB}\B{580}{588}{tBt}\B{588}{595}{tMYB}\B{595}{603}{tbZIP}\B{603}{610}{tHSF}\B{612}{625}{tMYB}\B{626}{642}{tbZIP}\B{642}{652}{tHD}\B{652}{665}{tEIL}\B{665}{686}{tHD}\B{686}{695}{tMYB}\B{695}{712}{tGATA}\B{712}{716}{tbHLH}\B{716}{728}{tG}\B{728}{732}{tMYB}\B{732}{748}{tRAV}\B{748}{755}{tMYB}\B{755}{772}{tHD}\B{772}{795}{tMYB}\B{795}{803}{tLFY}\B{803}{812}{tMYB}\B{812}{820}{tMYBr}\B{820}{835}{tEIL}\B{835}{840}{tG}\B{840}{847}{tCPP}\B{847}{870}{tNAC}\B{871}{878}{tRAV}\B{878}{978}{tNAC}\B{978}{985}{tHSF}\B{985}{1000}{tAP}\B{1002}{1170}{tWRKY}\B{1170}{1185}{tHSF}\B{1185}{1192}{cA}\B{1192}{1207}{tMYBr}\B{1207}{1215}{tCt}\B{1215}{1222}{tTCP}\B{1222}{1240}{tMIKC}\B{1245}{1254}{tARF}\B{1254}{1275}{tNAC}\B{1276}{1283}{tSBP}\B{1285}{1300}{tBES}\B{1308}{1315}{tCt}\B{1315}{1330}{tAP}\B{1330}{1352}{tTri}\B{1355}{1365}{tCH}\B{1365}{1375}{tTri}\B{1375}{1385}{tMYB}\B{1385}{1400}{tBBR}\B{1400}{1412}{tTCP}\B{1412}{1438}{tMIKC}\B{1442}{1455}{tDof}\B{1455}{1462}{tCH}\B{1462}{1482}{tDof}\B{1485}{1497}{tARR}\B{1497}{1512}{tGATA}\B{1512}{1522}{tTri}
\end{axis}
% ---------- d heat
\begin{axis}[base,at={(578pt,-298.5pt)},width=255.5pt,height=546.5pt,xmin=-.5,xmax=8.5,ymin=-.5,ymax=35.5,y dir=reverse,axis on top,
  colormap={dv}{rgb255(0pt)=(62,74,100); rgb255(5pt)=(92,107,130); rgb255(12pt)=(138,148,165); rgb255(18pt)=(181,188,200); rgb255(23pt)=(226,229,234); rgb255(26pt)=(255,255,255); rgb255(29pt)=(240,224,224); rgb255(34pt)=(219,176,176); rgb255(39pt)=(200,136,136); rgb255(44pt)=(185,96,96); rgb255(47pt)=(175,74,69); rgb255(52pt)=(155,38,22)},
  point meta min=-2.6,point meta max=2.6,major tick length=0pt,minor tick length=0pt,axis line style={line width=1.8pt,grd},
  xtick={0,1,2,3,4,5,6,7,8},xticklabels={C8 Cortex,C3 Endodermis,C4 Endodermis,C2 Root cap,C7 Stele,C9 Cortex,C1 Root hair,C5 Epidermis,C6 Stele},
  xticklabel pos=lower,xticklabel style={rotate=45,anchor=north east,inner sep=0pt,xshift=0pt,yshift=-6.5pt},
  minor xtick={.5,1.5,2.5,3.5,4.5,5.5,6.5,7.5},minor ytick={.5,1.5,...,34.5},grid=minor,
  minor grid style={draw=white,double=grd,double distance=1.5pt,line width=.45pt,solid},
  ytick={0,...,35},yticklabel pos=upper,yticklabel style={anchor=west,inner sep=0pt,xshift=3pt},
  yticklabels={SBP,EIL,YABBY,MYB,GATA,HD-ZIP,WOX,G2-like,ARR-B,RAV,B3,C2H2,ARF,NAC,AP2,FAR1,CAMTA,bZIP,WRKY,LFY,TALE,E2F/DP,BBR-BPC,HSF,MIKC\_MADS,Dof,C3H,ERF,LBD,TCP,Trihelix,MYB\_related,SRS,CPP,bHLH,BES1}]
\addplot[matrix plot*,mesh/cols=9,point meta=explicit] coordinates {
(0,0)[.75](1,0)[-.4](2,0)[-1.4](3,0)[-.6](4,0)[.05](5,0)[1.8](6,0)[-1.1](7,0)[.2](8,0)[.55]
(0,1)[.12](1,1)[-1.1](2,1)[-2.1](3,1)[.85](4,1)[-.25](5,1)[1.05](6,1)[-.05](7,1)[.45](8,1)[.4]
(0,2)[.2](1,2)[1.3](2,2)[-1.9](3,2)[0](4,2)[-.7](5,2)[-1](6,2)[.7](7,2)[.35](8,2)[.7]
(0,3)[.12](1,3)[-.8](2,3)[-1.3](3,3)[-1.05](4,3)[.6](5,3)[-.25](6,3)[0](7,3)[.7](8,3)[1.95]
(0,4)[.8](1,4)[.3](2,4)[-1.1](3,4)[-1.3](4,4)[-1.05](5,4)[-.65](6,4)[.65](7,4)[.85](8,4)[1.05]
(0,5)[.75](1,5)[-.6](2,5)[-1.8](3,5)[-.4](4,5)[-.5](5,5)[-.25](6,5)[1.6](7,5)[.45](8,5)[.85]
(0,6)[1.9](1,6)[-.6](2,6)[-1.4](3,6)[-.45](4,6)[-.7](5,6)[-.5](6,6)[.55](7,6)[.35](8,6)[.9]
(0,7)[.7](1,7)[-1.05](2,7)[.9](3,7)[-1.85](4,7)[-.65](5,7)[.5](6,7)[-.4](7,7)[.7](8,7)[.5]
(0,8)[.2](1,8)[-.7](2,8)[1.7](3,8)[-1.55](4,8)[-.75](5,8)[.6](6,8)[-.8](7,8)[.7](8,8)[.3]
(0,9)[2.15](1,9)[-.3](2,9)[-.9](3,9)[.25](4,9)[.7](5,9)[-.03](6,9)[-.3](7,9)[-1.1](8,9)[-.6]
(0,10)[1.1](1,10)[.8](2,10)[.3](3,10)[-1.65](4,10)[.75](5,10)[.75](6,10)[-1.15](7,10)[-.55](8,10)[-.75]
(0,11)[.85](1,11)[-.3](2,11)[0](3,11)[-1.35](4,11)[1.2](5,11)[1.25](6,11)[-1.55](7,11)[-.03](8,11)[-.45]
(0,12)[1.25](1,12)[-.85](2,12)[-1](3,12)[-1.05](4,12)[1.1](5,12)[1.3](6,12)[-1.1](7,12)[.15](8,12)[0]
(0,13)[-.45](1,13)[-.25](2,13)[.25](3,13)[2.5](4,13)[-.55](5,13)[-.5](6,13)[-.03](7,13)[-.45](8,13)[-.55]
(0,14)[-1.4](1,14)[0](2,14)[0](3,14)[2.4](4,14)[-.2](5,14)[.15](6,14)[-.15](7,14)[-.3](8,14)[-.5]
(0,15)[0](1,15)[0](2,15)[-2.2](3,15)[1.4](4,15)[.5](5,15)[.8](6,15)[.55](7,15)[-.6](8,15)[-.65]
(0,16)[-.15](1,16)[-.55](2,16)[-.9](3,16)[2](4,16)[.08](5,16)[.25](6,16)[.75](7,16)[-.85](8,16)[-.85]
(0,17)[-2.1](1,17)[-.35](2,17)[-.6](3,17)[.9](4,17)[.05](5,17)[.4](6,17)[1.05](7,17)[.4](8,17)[-.4]
(0,18)[-.6](1,18)[-.5](2,18)[-.5](3,18)[1.05](4,18)[-.7](5,18)[-.55](6,18)[2.1](7,18)[-.3](8,18)[0]
(0,19)[-1.05](1,19)[-.08](2,19)[-1.1](3,19)[1.5](4,19)[-.7](5,19)[-.45](6,19)[1.5](7,19)[0](8,19)[.05]
(0,20)[-.85](1,20)[.95](2,20)[1.4](3,20)[-1.75](4,20)[.65](5,20)[0](6,20)[-.45](7,20)[.2](8,20)[-.55]
(0,21)[-.55](1,21)[.85](2,21)[2.1](3,21)[.2](4,21)[.12](5,21)[-.65](6,21)[-1.05](7,21)[-.45](8,21)[-.85]
(0,22)[-.5](1,22)[.95](2,22)[1.9](3,22)[-1.05](4,22)[.55](5,22)[-.12](6,22)[-1.1](7,22)[-.1](8,22)[-.8]
(0,23)[-.65](1,23)[.7](2,23)[2.05](3,23)[-.4](4,23)[.65](5,23)[-.08](6,23)[-1.2](7,23)[-.5](8,23)[-.85]
(0,24)[-.3](1,24)[.9](2,24)[2.15](3,24)[-.55](4,24)[.35](5,24)[-.45](6,24)[-1.1](7,24)[-.5](8,24)[-.8]
(0,25)[-.5](1,25)[1.05](2,25)[2](3,25)[-.65](4,25)[.45](5,25)[-.3](6,25)[-1.05](7,25)[-.55](8,25)[-.9]
(0,26)[-.45](1,26)[1.05](2,26)[1.95](3,26)[-.65](4,26)[.55](5,26)[-.15](6,26)[-1.1](7,26)[-.55](8,26)[-.8]
(0,27)[-2.2](1,27)[.35](2,27)[1.2](3,27)[-.45](4,27)[0](5,27)[-.45](6,27)[1.1](7,27)[.1](8,27)[0]
(0,28)[-2.4](1,28)[.35](2,28)[1.3](3,28)[0](4,28)[0](5,28)[-.55](6,28)[1.05](7,28)[0](8,28)[-.25]
(0,29)[-1.65](1,29)[.95](2,29)[1.65](3,29)[0](4,29)[.5](5,29)[-.25](6,29)[-.45](7,29)[0](8,29)[-.9]
(0,30)[-2.45](1,30)[.7](2,30)[.7](3,30)[.4](4,30)[.5](5,30)[.45](6,30)[-.55](7,30)[.35](8,30)[-.75]
(0,31)[-2.65](1,31)[.75](2,31)[.05](3,31)[.7](4,31)[.02](5,31)[-.45](6,31)[.45](7,31)[.6](8,31)[.15]
(0,32)[-2.1](1,32)[.65](2,32)[.4](3,32)[1.65](4,32)[0](5,32)[-.4](6,32)[-.15](7,32)[.1](8,32)[-.45]
(0,33)[-1.4](1,33)[.65](2,33)[-.55](3,33)[-.85](4,33)[.75](5,33)[1.65](6,33)[-.55](7,33)[.65](8,33)[-.45]
(0,34)[-1.3](1,34)[-1.6](2,34)[.85](3,34)[-.2](4,34)[-.03](5,34)[1.65](6,34)[.3](7,34)[.35](8,34)[-.08]
(0,35)[-1.4](1,35)[-1.3](2,35)[.95](3,35)[.3](4,35)[-.08](5,35)[1.65](6,35)[.3](7,35)[.02](8,35)[-.3]
};
\end{axis}
% ---------- e
\begin{axis}[umap,at={(44pt,-970pt)},width=191pt,height=171pt,xmin=-10.2,xmax=16.5,ymin=-12.25,ymax=14.26,yticklabels={-10,-5,0,5,10}]
\UMAPbase
\addplot[ur] coordinates {(1.2,-5.1)(1.5,-4.8)(1.9,-5.2)(2.1,-4.6)(1.3,-5.8)(1.7,-6.0)(.9,-5.4)(.6,-6.1)(1.0,-6.6)(.3,-5.0)(.2,-6.7)(-.2,-5.6)(-.5,-6.3)(-.8,-7.1)(-.3,-7.6)(.4,-7.2)(-1.1,-5.9)(-1.5,-6.6)(-1.9,-7.2)(-1.2,-8.0)(-.6,-8.3)(-1.8,-8.3)(-2.3,-7.8)(-2.6,-6.4)(-3,-5.8)(-2.2,-5.2)(-1.6,-4.6)(-.9,-4.3)(-.2,-4.2)(.6,-4.4)(1.2,-3.8)(1.8,-3.6)(2.2,-3.2)(.8,-3.0)(-.4,-3.4)(-1.9,-3.8)(-2.5,-4.4)(-1.1,-3.2)(1.6,-6.8)(1.4,-7.4)(.8,-7.9)(2.3,-5.8)(2.5,-4.2)(1.0,-4.6)(.1,-5.8)(-.4,-4.9)(-1.4,-5.2)(-2,-6)(-3.2,-7)(-2.8,-8.2)(3,-1.5)(3.6,-.8)(4.3,.3)(4.6,-.5)(3.9,-2.2)(3.2,-3.2)(4.4,1)(3.4,.2)(2.7,-.5)(1.4,-9.2)(1.9,-9.5)(2.3,-9.0)(1.0,-10)(.9,-10.7)(2.5,-9.3)(-7.4,1.3)(-6.5,.9)(-5.8,1.4)(-5,.5)(-7,-.4)(-6.2,-1.2)(-5.4,-.4)(-4.5,-1.1)(-3.3,-.6)(-3.6,.9)(-7.8,-.9)(-6.8,1.6)(-5.1,-2.3)(-4.1,-2.6)(-7.2,.4)(-8.2,-2.0)(-3.5,-3.5)(-4.2,-4.0)(3.8,10)(3.9,8.2)(4.5,7.6)(4.2,6.4)(4.7,8.8)(3.4,7.9)(4.9,7.2)(2.2,10.8)(3.2,9.6)(1.6,-5.5)(1.1,-6.1)(.5,-5.5)(1.8,-4.3)(.1,-6.2)(-.8,-5.2)(-1.2,-7)(-2.4,-7)(1.4,-4.4)(1.9,-5.7)(.8,-5.1)(.3,-4.6)(1.1,-7)(.6,-6.6)(-.3,-6.9)(-.9,-6.2)(-1.7,-6.1)(-2.7,-7.2)};
\end{axis}
\begin{axis}[umap,at={(254pt,-970pt)},width=191pt,height=171pt,xmin=-10.28,xmax=16.47,ymin=-12.25,ymax=14.26,yticklabels={}]
\UMAPbase
\addplot[ur] coordinates {(-3.3,-5.2)(-2.8,-4.6)(-2.2,-5.4)(-1.8,-4.9)(-1.2,-5.5)(-.6,-5.1)(0,-5.6)(.6,-4.8)(1.2,-5.4)(1.8,-4.8)(-3.2,-6.3)(-2.6,-6.0)(-2,-6.6)(-1.4,-6.2)(-.8,-6.8)(-.2,-6.2)(.4,-6.7)(1,-6.2)(1.5,-7)(-3.1,-7.3)(-2.4,-7.6)(-1.7,-7.4)(-1.1,-7.9)(-.5,-7.4)(.1,-7.8)(-2.5,-8.4)(-1.6,-8.5)(-3.5,-4.4)(-2.9,-3.9)(-2.1,-4.1)(-1.3,-4.4)(-.6,-3.9)(.1,-4.4)(.7,-3.8)(1.3,-4.1)(1.9,-3.7)(.3,-3.2)(1,-2.8)(1.6,-2.6)(2.2,-2.9)(2.4,-1.9)(1.3,-1.7)(3,-2.3)(2.7,-1.1)(3.3,-.4)(3.9,-1.1)(4.4,-.2)(4.6,.7)(3.7,.1)(4.1,-2.2)(3.3,-3.2)(2.4,-4.6)(2.9,-5.1)(-2.4,-3.2)(-1.3,-3)(-2.6,-5)(-1.5,-5.8)(-.3,-4.6)(.9,-5.2)(.2,-5.8)(-1,-4.9)(-2,-7.9)(-.9,-8.4)(.8,-7.1)(2.5,-8.8)(2.7,-9.4)(2.6,-10)(1.5,-9.3)(2.1,-10.2)(-6.6,1.3)(-5.5,.9)(-7.1,.6)(-4.8,.2)(-5,-1.1)(-7.6,1.6)(-3.6,1.2)(4.7,7.2)(5.4,8)(.9,10)(5.2,6.4)(4,9)(13.9,3.0)(-2.9,-5.7)(-2.3,-6.3)(-1.7,-5.2)(-.9,-6)(.4,-5.2)(1.4,-6.1)(-1.9,-8.3)(-3,-6.8)(-2.2,-7.1)(-2.5,-5.5)(-1.2,-4.9)(-3,-5.1)(-.7,-7.1)(-1.4,-7)(-.2,-5.1)(.7,-6.4)(1.6,-5.3)(2,-4.2)(-2.7,-7.1)};
\end{axis}
\begin{axis}[umap,at={(470pt,-967.5pt)},width=186.5pt,height=171pt,xmin=-10.2,xmax=16.43,ymin=-12.25,ymax=14.26,yticklabels={}]
\UMAPbase
\addplot[ur,mark size=0.7pt] coordinates {(14.3,.4)(14.5,.1)(14.6,.5)(14.4,-.1)(14.7,.2)(14.2,.1)(14.5,.7)(14.6,-.3)(.5,-6)};
\end{axis}
\begin{axis}[umap,at={(680.5pt,-967pt)},width=190pt,height=171pt,xmin=-10.2,xmax=16.32,ymin=-12.2,ymax=14.3,yticklabels={}]
\UMAPbase
\addplot[ur] coordinates {(2.4,11.8)(2.7,11.2)(3,11.5)(3.2,10.8)(3.5,10.9)(2.9,10.4)(3.3,10.2)(3.7,10.3)(4,10)(4.3,9.8)(3.1,9.7)(3.5,9.6)(3.9,9.4)(4.3,9.3)(4.6,9.1)(2.8,9.2)(3.2,9.0)(3.6,8.9)(4,8.7)(4.4,8.5)(4.8,8.6)(3,8.5)(3.4,8.2)(3.8,8.1)(4.2,7.9)(4.6,7.8)(5.1,7.9)(3.6,7.5)(4,7.3)(4.5,7.2)(4.9,7.0)(5.3,7.4)(4.2,6.8)(4.7,6.5)(1.8,11.2)(1.9,10.5)(2.2,9.9)(1.6,9.5)(.8,9.8)(.4,9.4)(1.2,8.8)(2.4,8.4)(3.3,7)(3.7,6.3)(3.4,10.5)(3.8,9.9)(3.4,9.3)(3.8,8.5)(4.2,8.3)(4.0,9.1)(3.0,10.9)(2.6,10.0)(-2.9,1.8)(-2.4,2.1)(-1.9,2.3)(-2.7,1.3)(-2.2,1.5)(-3.3,1.1)(-1.5,2.5)(-2,1.1)(-1,2.8)(.8,3.3)(1.2,3.8)(1.5,3.2)(-6.2,1.2)(-7.5,1.3)(-5.3,.7)(-6.8,.3)(-4.7,1.3)(-3.9,.5)(-7.2,-.7)(-5.9,-.2)(-4.4,-.5)(-7.8,-1.6)(-6.5,-2.3)(-4.7,-3.6)(-1.4,-3.5)(-.3,-5.6)(.8,-6.2)(-2.1,-8.0)(-1.2,-6.9)(2.4,-3.9)(1.4,-3.2)(-1.6,-5.5)(.1,-7.6)(2.2,-1.6)(-.4,-4.3)(.9,-7.9)};
\end{axis}
% ---------- dendrogram c
\begin{scope}[shift={(20pt,-315pt)},x=0.16667pt,y=-0.28703pt]
\Br{165}{42}{240}{82}{200}\Br{205}{65}{240}{105}{240}\Br{125}{62}{165}{135}{185}\Br{185}{128}{240}{140}{240}\Br{82}{100}{125}{298}{120}
\Br{120}{235}{160}{355}{158}\Br{160}{190}{178}{285}{178}\Br{178}{165}{205}{215}{205}\Br{205}{155}{240}{178}{240}\Br{205}{195}{240}{222}{240}\Br{178}{262}{200}{305}{205}\Br{200}{238}{240}{285}{225}\Br{225}{250}{240}{300}{240}\Br{158}{340}{190}{385}{200}\Br{190}{320}{240}{360}{240}\Br{200}{365}{240}{395}{225}
\Br{57}{200}{82}{520}{85}\Br{85}{445}{135}{600}{145}\Br{135}{405}{185}{475}{175}\Br{175}{440}{240}{510}{205}\Br{185}{405}{240}{430}{240}\Br{205}{505}{240}{545}{240}\Br{145}{575}{165}{625}{195}\Br{165}{560}{240}{600}{210}\Br{195}{600}{240}{625}{240}
\Br{47}{358}{57}{1150}{47}\Br{47}{925}{72}{1385}{75}\Br{72}{740}{105}{1105}{105}\Br{105}{675}{165}{800}{150}\Br{165}{645}{190}{700}{205}\Br{190}{640}{240}{680}{240}\Br{205}{690}{240}{725}{240}\Br{150}{780}{165}{810}{160}\Br{165}{760}{205}{810}{200}\Br{205}{750}{240}{780}{240}\Br{200}{795}{240}{825}{240}
\Br{105}{1005}{127}{1215}{155}\Br{127}{900}{175}{1105}{172}\Br{175}{860}{195}{960}{195}\Br{195}{850}{240}{885}{240}\Br{195}{935}{240}{975}{220}\Br{172}{1045}{215}{1165}{205}\Br{215}{1005}{240}{1090}{240}\Br{155}{1185}{190}{1245}{200}\Br{190}{1175}{240}{1200}{240}\Br{200}{1220}{240}{1265}{240}
\Br{75}{1315}{125}{1455}{115}\Br{125}{1295}{150}{1345}{195}\Br{150}{1275}{240}{1310}{240}\Br{195}{1325}{240}{1360}{240}\Br{115}{1400}{185}{1510}{165}\Br{185}{1385}{225}{1460}{210}\Br{225}{1380}{240}{1395}{240}\Br{210}{1420}{240}{1490}{235}\Br{165}{1500}{195}{1515}{240}\Br{195}{1497}{240}{1505}{240}
\foreach \y in {42,49,...,1518}{\draw[ink,line width=1.1pt] (218,\y)--(241,\y);}
\foreach \ya/\yb in {42/110,160/300,330/395,410/545,565/625,650/720,755/820,860/975,1000/1170,1180/1260,1280/1350,1385/1515}{\draw[ink,line width=1.8pt] (226,\ya)--(226,\yb);}
\end{scope}
% ---------- dendrogram d
\begin{scope}[shift={(500pt,-306.45pt)},x=0.22957pt,y=-15.175pt]
\Br{228}{0}{338}{1}{338}\Br{145}{.47}{228}{2.94}{183}\Br{183}{2}{338}{3.9}{215}\Br{215}{3}{338}{4.76}{245}\Br{245}{4}{338}{5.53}{268}\Br{268}{5}{338}{6}{338}
\Br{92}{1.7}{145}{8.7}{108}\Br{60}{5.2}{92}{20.7}{78}\Br{78}{15.1}{175}{26.2}{132}\Br{175}{13.5}{275}{15.6}{190}\Br{275}{13}{338}{14}{338}\Br{190}{15.5}{260}{17.8}{222}\Br{260}{15}{338}{16}{338}\Br{222}{17}{338}{18.5}{285}\Br{285}{18}{338}{19}{338}
\Br{108}{7.53}{288}{9.88}{185}\Br{288}{7}{338}{8}{338}\Br{185}{9}{338}{10.7}{210}\Br{210}{10}{338}{11.5}{270}\Br{270}{11}{338}{12}{338}
\Br{132}{21.04}{215}{31.45}{148}\Br{215}{20.04}{338}{22.04}{268}\Br{268}{21.04}{338}{22.98}{302}\Br{302}{22}{338}{23.92}{315}\Br{315}{23}{338}{24.8}{325}\Br{325}{24}{338}{25.57}{330}\Br{330}{25}{338}{26}{338}
\Br{148}{29.04}{200}{33.86}{175}\Br{200}{27.5}{312}{30.57}{213}\Br{312}{27}{338}{28}{338}\Br{213}{29.57}{270}{31.63}{260}\Br{270}{29.04}{338}{30.04}{338}\Br{260}{31.04}{338}{32.1}{338}\Br{175}{33.04}{338}{34.57}{300}\Br{300}{34.04}{338}{35.1}{338}
\end{scope}
% ---------- texts a
\T{252}{67}{H3K4me3}\T{594}{67}{H3K4me1}\T{945}{67}{H3K9me2}\T{1300}{62}{H3K27me3}
\Tr{55}{208}{Normalized signal}
\foreach \a/\b/\c in {140/199/cA,276/335/cB,415/474/cC,573/631/cD,717/776/cE,855/913/cF,995/1057/cG,1114/1173/cH,1234/1292/cI}{\R{\a}{431}{\b}{437}{\c}}
\T{229}{431}{C1}\T{367}{431}{C2}\T{506}{431}{C3}\T{663}{431}{C4}\T{807}{431}{C5}\T{945}{431}{C6}\T{1089}{431}{C7}\T{1203}{431}{C8}\T{1324}{431}{C9}
% texts b
\Tr{1521}{235}{Average motif coverage}
\R{1719}{369}{1745}{373}{acr}\R{1719}{391}{1745}{395}{ctl}
\T[west]{1754}{367}{ACR}\T[west]{1754}{390}{Control}
% panel letters
\begingroup\fontsize{26}{30}\selectfont\bfseries
\T{13}{27}{a}\T{1510}{21}{b}\T{15}{549}{c}\T{975}{549}{d}\T{15}{1869}{e}
\endgroup
% legend c
\T[west]{553}{670}{TF family}
\foreach \c/\y/\t in {tAP/718/AP2,tARF/754/ARF,tARR/791/ARR-B,tBt/828/B3,tBBR/865/BBR-BPC,tBES/902/BES1,tbHLH/939/bHLH,tbZIP/975/bZIP,tCt/1012/C2H2,tCH/1050/C3H,tCPP/1087/CPP,tDof/1123/Dof,tE/1160/\ee,tEIL/1196/EIL,tERF/1234/ERF,tG/1271/G2-like,tGATA/1306/GATA}{
  \pgfmathsetmacro\ya{\y-15}\pgfmathsetmacro\yb{\y+16}
  \R{555}{\ya}{576}{\yb}{\c}\T[west]{585}{\y}{\t}}
\foreach \c/\y/\t in {tHD/715/HD-ZIP,tHSF/752/HSF,tLFY/788/LFY,tMIKC/825/MIKC\_MADS,tMYB/863/MYB,tMYBr/902/MYB\_related,tNAC/938/NAC,tRAV/974/RAV,tSBP/1011/SBP,tSRS/1047/SRS,tTALE/1084/TALE,tTCP/1120/TCP,tTri/1156/Trihelix,tWOX/1195/WOX,tWRKY/1231/WRKY,tYAB/1268/YABBY}{
  \pgfmathsetmacro\ya{\y-15}\pgfmathsetmacro\yb{\y+16}
  \R{718}{\ya}{739}{\yb}{\c}\T[west]{746}{\y}{\t}}
% colourbar c
\Sh{606}{1350}{634}{1395}{hD}{hC}\Sh{606}{1395}{634}{1446}{hC}{hb}\Sh{606}{1446}{634}{1540}{hb}{gray!60}
\T{650}{1359}{4}\T{650}{1403}{2}\T{650}{1446}{0}\T{650}{1487}{-2}\T{650}{1528}{-4}
\Tr{583}{1450}{Enrichment}
% d texts
\T{1406}{550}{TF family motif relative enrichment}
\Sh{1848}{598}{1872}{719}{dvA}{dvB}\Sh{1848}{719}{1872}{799}{dvB}{white}\Sh{1848}{799}{1872}{878}{white}{dvC}\Sh{1848}{878}{1872}{1002}{dvC}{dvD}
\T{1890}{640}{2}\T{1890}{719}{1}\T{1890}{799}{0}\T{1890}{878}{-1}\T{1890}{957}{-2}
\Tr{1817}{800}{Average deviation score}
% e texts
\T{295}{1910}{bHLH \textit{LOC\_Os06g06900}}\T{712}{1910}{C2H2 \textit{LOC\_Os09g38340}}\T{1136}{1908}{ERF\,\,\textit{LOC\_Os07g10410}}\T{1561}{1908}{MYB\,\,\textit{LOC\_Os04g50770}}
\T{313}{2331}{UMAP 1}\T{737}{2331}{UMAP 1}\T{1160}{2331}{UMAP 1}\T{1585}{2331}{UMAP 1}
\Tr{29}{2093}{UMAP 2}
\T{323}{2192}{Cortex}\T{748}{2190}{Cortex}\T{1247}{2142}{Root hair}\T{1633}{1985}{Stele}
\Sh{1788}{2064}{1806}{2156}{ceA}{ugray}
\foreach \y/\z in {2078/2079,2098/2099,2118/2119,2137/2138}{\R{1788}{\y}{1792}{\z}{white}\R{1802}{\y}{1806}{\z}{white}}
\T{1835}{2077}{2.0}\T{1835}{2116}{1.0}
\Tr{1755}{2095}{Relative expression}
\end{tikzpicture}
\end{document}
